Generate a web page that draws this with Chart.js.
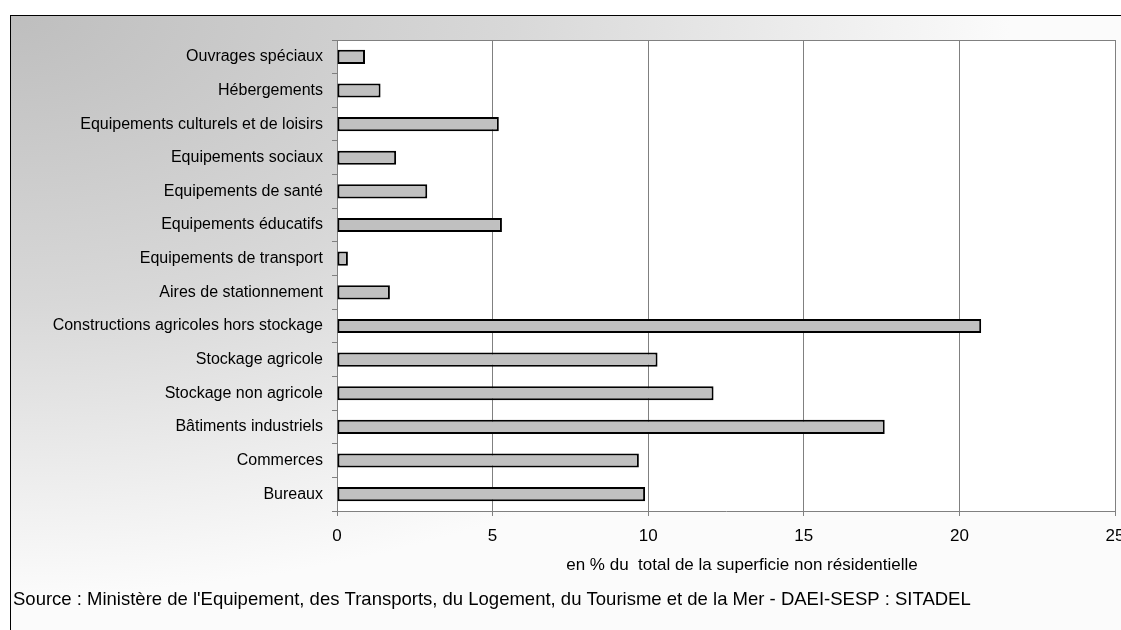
<!DOCTYPE html>
<html>
<head>
<meta charset="utf-8">
<script src="https://cdn.jsdelivr.net/npm/chart.js@4/dist/chart.umd.min.js"></script>
<style>
  html, body { margin: 0; padding: 0; overflow: hidden; background: #fff; }
  canvas { display: block; }
</style>
</head>
<body>
<canvas id="chart" width="1140" height="630"></canvas>
<script>
// data (top to bottom)
const categories = [
  'Ouvrages spéciaux',
  'Hébergements',
  'Equipements culturels et de loisirs',
  'Equipements sociaux',
  'Equipements de santé',
  'Equipements éducatifs',
  'Equipements de transport',
  'Aires de stationnement',
  'Constructions agricoles hors stockage',
  'Stockage agricole',
  'Stockage non agricole',
  'Bâtiments industriels',
  'Commerces',
  'Bureaux'
];
const shares = [0.9, 1.4, 5.2, 1.9, 2.9, 5.3, 0.35, 1.7, 20.7, 10.3, 12.1, 17.6, 9.7, 9.9];
const xTicks = [0, 5, 10, 15, 20, 25];
const xTitle = 'en % du  total de la superficie non résidentielle';
const sourceText = "Source : Ministère de l'Equipement, des Transports, du Logement, du Tourisme et de la Mer - DAEI-SESP : SITADEL";

const FONT = '"Liberation Sans", Arial, sans-serif';

// background gradient, outer frame, white plot area, texts under the axis
const frame = {
  id: 'frame',
  beforeDraw(chart) {
    const ctx = chart.ctx;
    const a = chart.chartArea;
    ctx.save();
    ctx.translate(10, 15);
    ctx.scale(1, 0.58);
    const g = ctx.createRadialGradient(0, 0, 0, 0, 0, 1000);
    g.addColorStop(0, '#bebebe');
    g.addColorStop(0.5, '#d8d8d8');
    g.addColorStop(1, '#fbfbfb');
    ctx.fillStyle = g;
    ctx.fillRect(0, 0, 1200, 1200);
    ctx.restore();

    ctx.save();
    ctx.fillStyle = '#ffffff';
    ctx.fillRect(a.left, a.top, a.right - a.left, a.bottom - a.top);
    ctx.strokeStyle = '#000000';
    ctx.lineWidth = 1;
    ctx.strokeRect(10.5, 15.5, 1300, 800);
    ctx.restore();
  },
  afterDatasetsDraw(chart) {
    const ctx = chart.ctx;
    const a = chart.chartArea;
    ctx.save();
    ctx.strokeStyle = '#808080';
    ctx.lineWidth = 1;
    ctx.beginPath();
    ctx.moveTo(a.left, Math.round(a.top) + 0.5);
    ctx.lineTo(a.right, Math.round(a.top) + 0.5);
    ctx.stroke();
    ctx.restore();
  },
  afterDraw(chart) {
    const ctx = chart.ctx;
    const a = chart.chartArea;
    ctx.save();
    ctx.fillStyle = '#000';
    ctx.textBaseline = 'middle';
    // axis title sits a bit right of the plot centre in the original
    ctx.font = '17px ' + FONT;
    ctx.textAlign = 'center';
    ctx.fillText(xTitle, (a.left + a.right) / 2 + 16, 565);
    ctx.font = '18.5px ' + FONT;
    ctx.textAlign = 'left';
    ctx.fillText(sourceText, 13, 600);
    ctx.restore();
  }
};

new Chart(document.getElementById('chart'), {
  type: 'bar',
  data: {
    labels: categories,
    datasets: [{
      data: shares,
      backgroundColor: '#c0c0c0',
      borderColor: '#000000',
      borderWidth: 2,
      borderSkipped: false,
      barPercentage: 0.42,
      categoryPercentage: 1
    }]
  },
  options: {
    indexAxis: 'y',
    responsive: false,
    animation: false,
    layout: { padding: { top: 40, right: 25, bottom: 55, left: 0 } },
    plugins: {
      legend: { display: false },
      tooltip: { enabled: false }
    },
    scales: {
      x: {
        min: 0,
        max: 25,
        afterBuildTicks: s => { s.ticks = xTicks.map(v => ({ value: v })); },
        afterFit: s => { s.height = 64; },
        border: { display: true, color: '#808080', width: 1 },
        grid: { color: '#808080', lineWidth: 1, tickLength: 5, drawTicks: true },
        ticks: { color: '#000', font: { family: FONT, size: 17 }, padding: 10, maxRotation: 0 }
      },
      y: {
        afterFit: s => { s.width = 337; },
        border: { display: true, color: '#808080', width: 1 },
        grid: { drawOnChartArea: false, offset: true, color: '#808080', tickLength: 5 },
        ticks: { color: '#000', font: { family: FONT, size: 16 }, padding: 9, autoSkip: false }
      }
    }
  },
  plugins: [frame]
});
</script>
</body>
</html>
